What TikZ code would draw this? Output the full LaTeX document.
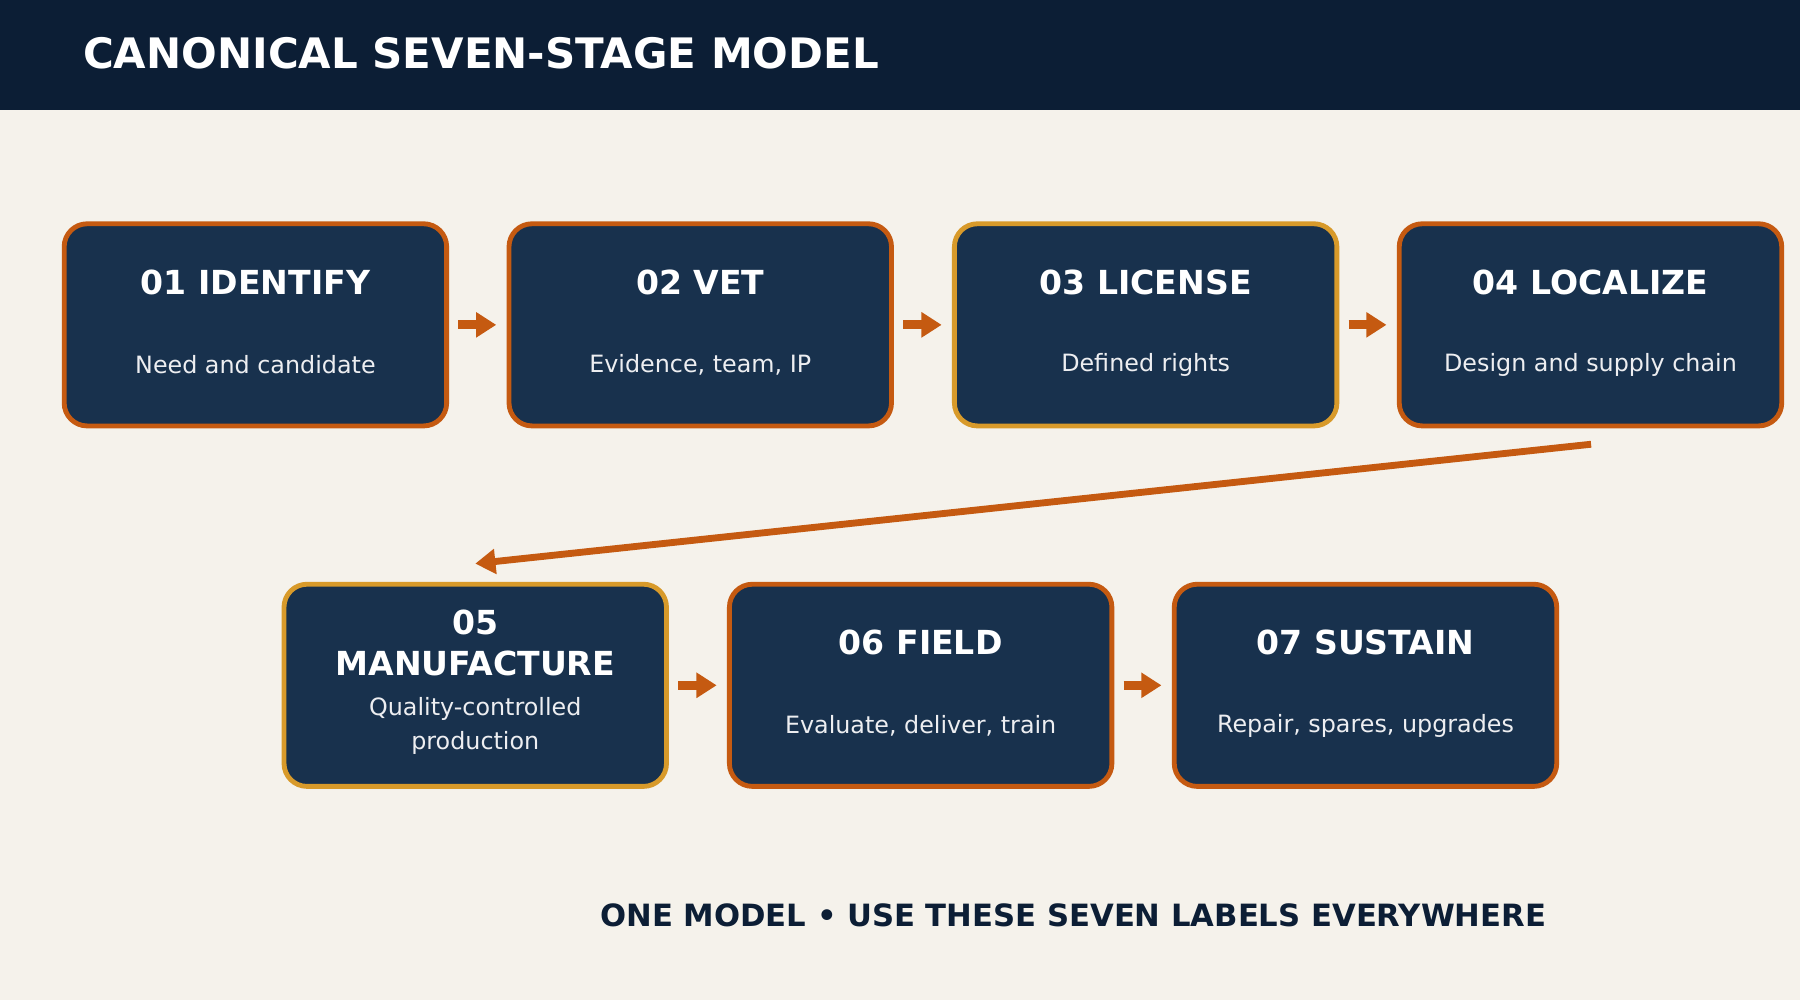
\documentclass[tikz,border=0pt]{standalone}
\usepackage{fontspec}
\setmainfont{DejaVu Sans}
\usetikzlibrary{positioning,arrows.meta,calc}
\definecolor{navy}{HTML}{0C1E35}
\definecolor{boxfill}{HTML}{18314D}
\definecolor{rust}{HTML}{C55A11}
\definecolor{gold}{HTML}{D89A2A}
\definecolor{paper}{HTML}{F5F2EB}
\tikzset{
  stage/.style={draw=rust,line width=1.2pt,fill=boxfill,rounded corners=0.2cm,
    minimum width=3.33cm,minimum height=1.76cm},
  gold stage/.style={stage,draw=gold},
  ttl/.style={text=white,font=\bfseries\fontsize{8.2}{10}\selectfont,align=center},
  sub/.style={text=white!92!boxfill,font=\fontsize{5.9}{8.4}\selectfont,align=center},
  flow/.style={draw=rust,line width=2.3pt,-{Triangle[length=5pt,width=6pt]}},
}
\begin{document}
\begin{tikzpicture}[x=0.01cm,y=-0.01cm]
  \useasboundingbox (0,0) rectangle (1568,871);
  \fill[paper] (0,0) rectangle (1568,871);
  \fill[navy] (0,0) rectangle (1568,96);
  \node[anchor=west,text=white,font=\bfseries\fontsize{10.4}{12}\selectfont] (head) at (60,46) {CANONICAL SEVEN-STAGE MODEL};
  % stages
  \node[stage] (s1) at (222.5,283) {};
  \node[stage] (s2) at (610,283) {};
  \node[gold stage] (s3) at (998,283) {};
  \node[stage] (s4) at (1385.5,283) {};
  \node[gold stage] (s5) at (414,597) {};
  \node[stage] (s6) at (802,597) {};
  \node[stage] (s7) at (1189.5,597) {};
  \foreach \s/\t/\d in {s1/01 IDENTIFY/Need and candidate,s2/02 VET/{Evidence, team, IP},
    s3/03 LICENSE/Defined rights,s4/04 LOCALIZE/Design and supply chain,
    s6/06 FIELD/{Evaluate, deliver, train},s7/07 SUSTAIN/{Repair, spares, upgrades}}{
    \node[ttl] (\s t) at ([yshift=0.37cm]\s.center) {\t};
    \node[sub] (\s d) at ([yshift=-0.35cm]\s.center) {\d};
  }
  \node[ttl] (s5t) at ([yshift=0.37cm]s5.center) {05\\MANUFACTURE};
  \node[sub] (s5d) at ([yshift=-0.35cm]s5.center) {Quality-controlled\\production};
  % connectors
  \foreach \a/\b in {s1/s2,s2/s3,s3/s4,s5/s6,s6/s7}
    \draw[flow,shorten <=0.08cm,shorten >=0.09cm] (\a.east) -- (\b.west);
  \coordinate (turn) at (1386,387);
  \coordinate (into) at (414,491);
  \draw[flow,line width=1.7pt] (turn) -- (into);
  \node[text=navy,font=\bfseries\fontsize{7.6}{9}\selectfont] (foot) at (935,797) {ONE MODEL • USE THESE SEVEN LABELS EVERYWHERE};
\end{tikzpicture}
\end{document}
